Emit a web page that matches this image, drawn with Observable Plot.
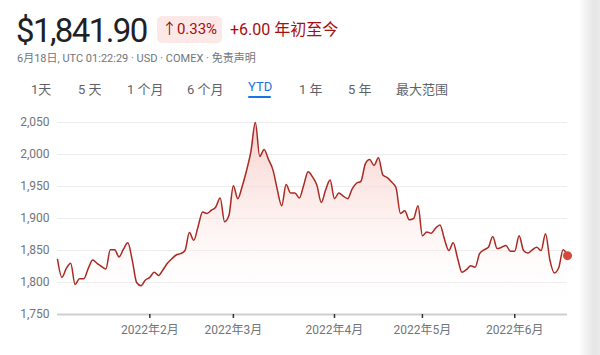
<!DOCTYPE html>
<html><head><meta charset="utf-8">
<script src="https://cdn.jsdelivr.net/npm/d3@7"></script>
<script src="https://cdn.jsdelivr.net/npm/@observablehq/plot@0.6"></script>
<style>
body{margin:0;width:600px;height:355px;overflow:hidden;background:#fff;font-family:Roboto,"Noto Sans CJK SC",sans-serif;position:relative}
#price{position:absolute;left:16px;top:11px;font-size:33px;color:#202124;letter-spacing:-1.6px}
#badge{position:absolute;left:157px;top:16px;width:65px;height:27px;background:#fce8e6;border-radius:5px;color:#a50e0e;font-size:15px;line-height:27px;text-align:center}
#chg{position:absolute;left:230px;top:16px;line-height:27px;color:#a50e0e;font-size:16px}
#sub{position:absolute;left:17px;top:49px;font-size:11px;color:#70757a}
.tab{position:absolute;top:79px;font-size:13px;color:#5f6368}
#ytd{color:#1a73e8}
#uline{position:absolute;left:248px;top:96px;width:23px;height:2px;background:#1a73e8;border-radius:1px}
#chart{position:absolute;left:0;top:110px}
#shade{position:absolute;left:578px;top:0;width:22px;height:355px;background:linear-gradient(to right,rgba(232,232,232,0),#e6e6e6 70%,#e9e9e9)}
</style></head>
<body>
<div id="price">$1,841.90</div>
<div id="badge">↑0.33%</div>
<div id="chg">+6.00 年初至今</div>
<div id="sub">6月18日, UTC 01:22:29 · USD · COMEX · 免责声明</div>
<div class="tab" style="left:31px">1天</div>
<div class="tab" style="left:78px">5 天</div>
<div class="tab" style="left:127px">1 个月</div>
<div class="tab" style="left:187px">6 个月</div>
<div class="tab" id="ytd" style="left:248px">YTD</div>
<div id="uline"></div>
<div class="tab" style="left:299px">1 年</div>
<div class="tab" style="left:348px">5 年</div>
<div class="tab" style="left:396px">最大范围</div>
<div id="chart"></div>
<div id="shade"></div>
<script>
// daily closes (trading-day index 0 = 2022-01-03 ... 116 = 2022-06-17)
const prices = [
1836,1808,1822,1830,1797,1806,1806,1822,1835,1830,
1825,1821,1851,1851,1840,1852,1862,1835,1800,1795,
1804,1808,1816,1811,1820,1830,1837,1843,1845,1850,
1878,1866,1888,1910,1908,1913,1918,1932,1895,1905,
1951,1931,1950,1975,2005,2050,1997,2008,1992,1976,
1945,1920,1953,1940,1940,1932,1952,1973,1965,1952,
1925,1945,1960,1931,1940,1935,1931,1946,1955,1958,
1985,1992,1983,1995,1968,1964,1957,1948,1908,1912,
1898,1900,1920,1873,1879,1877,1885,1890,1868,1850,
1862,1838,1816,1820,1826,1824,1845,1851,1855,1872,
1853,1855,1858,1849,1849,1873,1850,1846,1851,1855,
1850,1876,1835,1815,1823,1851,1841.9
];
const monthStartIdx = [21, 40, 63, 83, 104];
const monthLabels = ["2022年2月", "2022年3月", "2022年4月", "2022年5月", "2022年6月"];
const yTicks = [1800, 1850, 1900, 1950, 2000, 2050];

const data = prices.map((v, i) => ({i, v}));
const last = data[data.length - 1];

const chart = Plot.plot({
  width: 600,
  height: 240,
  marginLeft: 57,
  marginRight: 33,
  marginTop: 12,
  marginBottom: 36,
  style: {fontFamily: 'Roboto,"Noto Sans CJK SC",sans-serif', fontSize: "12px", color: "#70757a", background: "transparent"},
  x: {domain: [0, 116]},
  y: {domain: [1750, 2050]},
  marks: [
    Plot.ruleY(yTicks, {stroke: "#ececec", strokeWidth: 1}),
    Plot.areaY(data, {x: "i", y1: 1750, y2: "v", curve: "monotone-x", fill: "url(#goldGrad)"}),
    Plot.lineY(data, {x: "i", y: "v", curve: "monotone-x", stroke: "#a92a22", strokeWidth: 1.5}),
    Plot.ruleY([1750], {stroke: "#cfcfcf", strokeWidth: 2}),
    Plot.dot([last], {x: "i", y: "v", r: 4.5, fill: "#d14a3c", stroke: "none"}),
    Plot.axisY([1750, ...yTicks], {tickSize: 0, tickPadding: 8, tickFormat: d3.format(","), fill: "#70757a", fontSize: 12, label: null}),
    Plot.axisX(monthStartIdx, {tickSize: 4, tickPadding: 7, stroke: "#333", strokeWidth: 1.5, tickFormat: (d, k) => monthLabels[k], fill: "#70757a", fontSize: 12, label: null})
  ]
});

const defs = d3.select(chart).insert("defs", ":first-child");
const g = defs.append("linearGradient").attr("id", "goldGrad").attr("x1", 0).attr("y1", 0).attr("x2", 0).attr("y2", 1);
g.append("stop").attr("offset", "0%").attr("stop-color", "#f6c9c4").attr("stop-opacity", 0.85);
g.append("stop").attr("offset", "45%").attr("stop-color", "#fbe3e0").attr("stop-opacity", 0.6);
g.append("stop").attr("offset", "100%").attr("stop-color", "#ffffff").attr("stop-opacity", 0);
document.getElementById("chart").appendChild(chart);
</script>
</body></html>
